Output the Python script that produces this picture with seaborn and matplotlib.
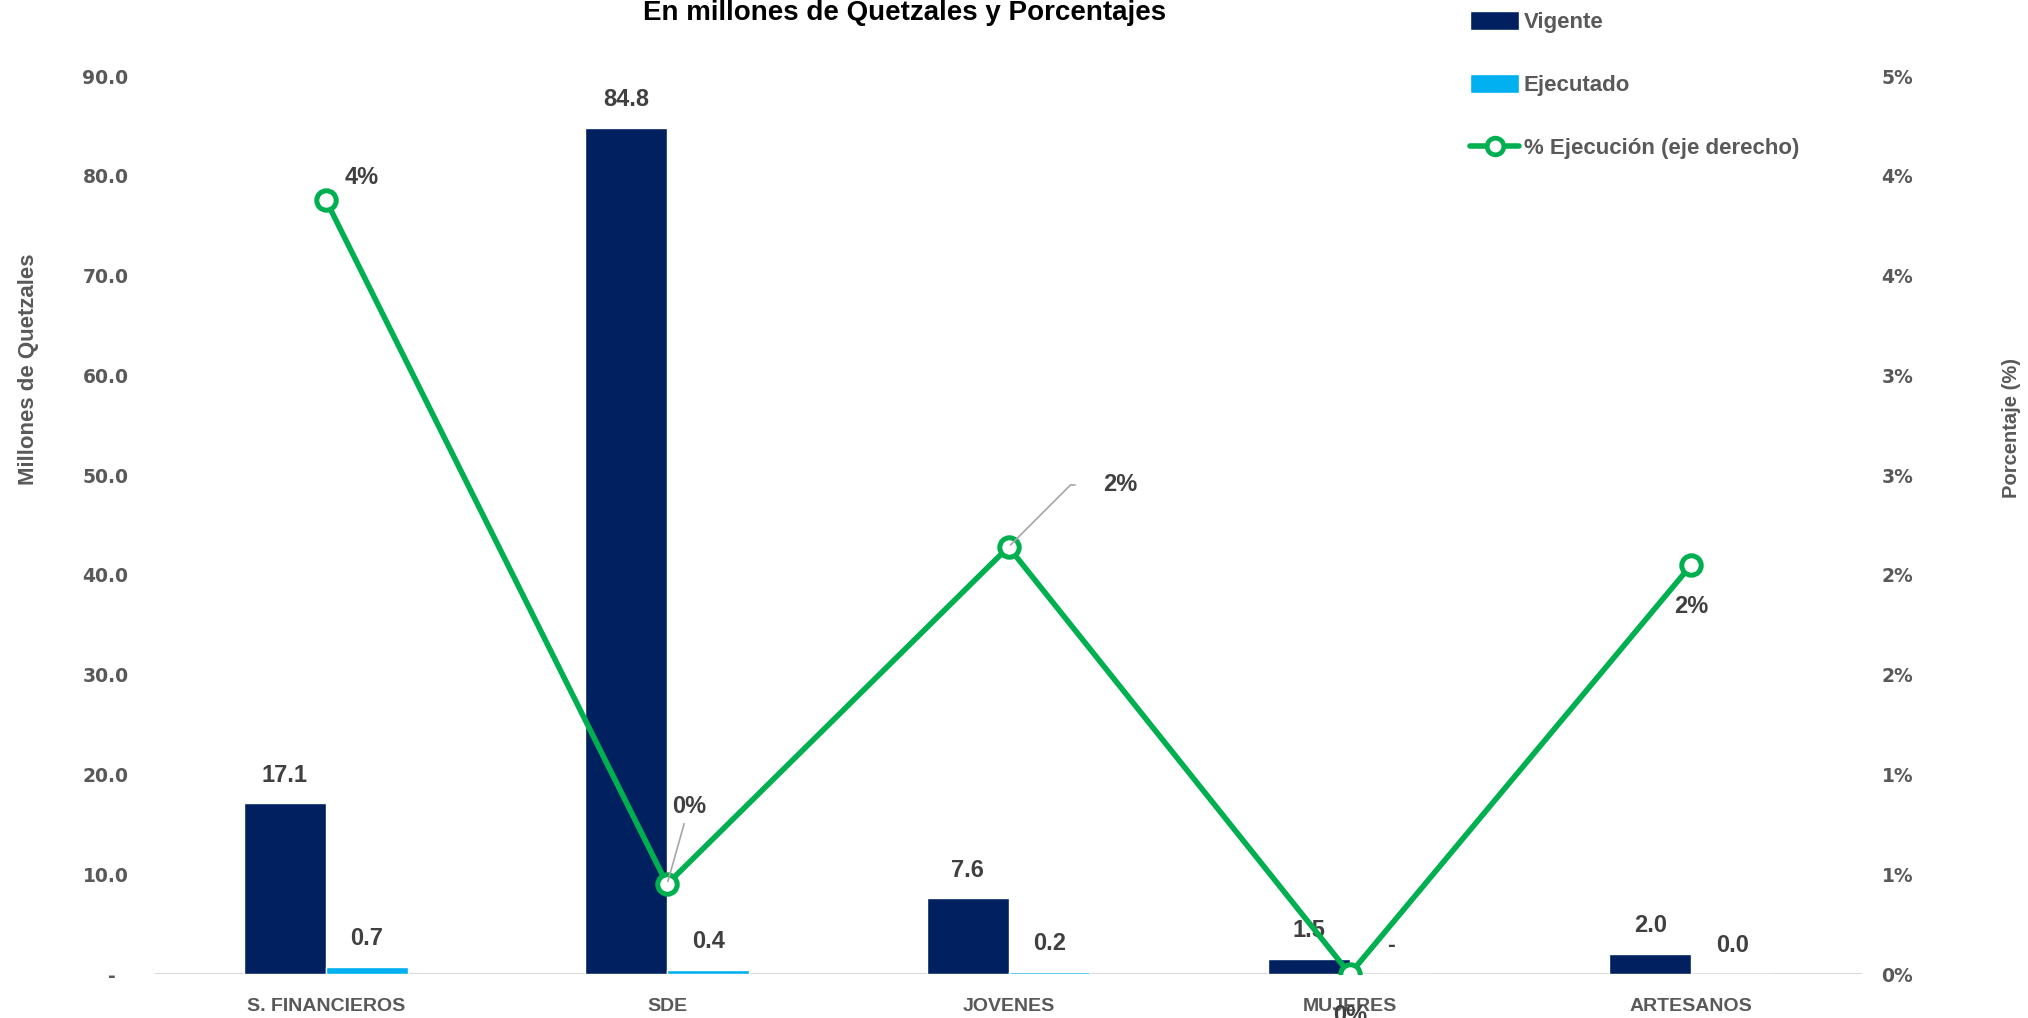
import numpy as np
import pandas as pd
import seaborn as sns
import matplotlib.pyplot as plt
import matplotlib.ticker as ticker
from matplotlib.lines import Line2D
from matplotlib.patches import Patch
from decimal import Decimal, ROUND_HALF_UP

categorias = ['S. FINANCIEROS', 'SDE', 'JOVENES', 'MUJERES', 'ARTESANOS']
vigente = [17.1, 84.8, 7.6, 1.5, 2.0]
ejecutado = [0.7, 0.4, 0.2, 0.0, 0.04]
pct_ejecucion = [3.88, 0.45, 2.14, 0.0, 2.05]

c_vig = '#002060'
c_eje = '#00B0F0'
c_line = '#00B050'
c_tick = '#595959'
c_lab = '#404040'

labfont = ['Liberation Sans', 'DejaVu Sans']

sns.set_theme(style='white')
plt.rcParams['font.family'] = ['DejaVu Sans']

df = pd.DataFrame({'categoria': categorias * 2,
                   'serie': ['Vigente'] * 5 + ['Ejecutado'] * 5,
                   'valor': vigente + ejecutado})

fig = plt.figure(figsize=(20.28, 10.18), dpi=100)
ax = fig.add_axes([155 / 2028, 1 - 974 / 1018, (1862 - 155) / 2028, (974 - 76) / 1018])

sns.barplot(data=df, x='categoria', y='valor', hue='serie', order=categorias,
            hue_order=['Vigente', 'Ejecutado'], palette=[c_vig, c_eje],
            width=0.48, gap=0, saturation=1, legend=False, ax=ax)

ax.set_xlim(-0.5, 4.5)
ax.set_ylim(0, 90)
ax.yaxis.set_major_locator(ticker.MultipleLocator(10))
ax.yaxis.set_major_formatter(ticker.FuncFormatter(lambda v, p: '-  ' if v == 0 else f'{v:.1f}'))
for s in ax.spines.values():
    s.set_visible(False)
ax.axhline(0, color='#d9d9d9', lw=1.5, zorder=0)
ax.tick_params(axis='y', length=0, labelsize=13.5, labelcolor=c_tick, pad=19)
ax.tick_params(axis='x', length=0, pad=17)
for t in ax.get_yticklabels():
    t.set_fontweight('bold')
ax.set_xticks(range(5))
ax.set_xticklabels(categorias, fontsize=14, fontweight='bold', color=c_tick, family=labfont)
ax.set_xlabel('')
ax.set_ylabel('Millones de Quetzales', fontsize=16, fontweight='bold', color=c_tick,
              family=labfont, labelpad=31)
ax.yaxis.label.set_y(0.673)

# etiquetas de las barras
for cont in ax.containers:
    labels = ['-' if v == 0 else f'{v:.1f}' for v in cont.datavalues]
    ax.bar_label(cont, labels=labels, padding=12, fontsize=17, fontweight='bold',
                 color=c_lab, family=labfont)

# eje derecho
ax2 = ax.twinx()
sns.lineplot(x=np.arange(5), y=pct_ejecucion, sort=False, color=c_line, lw=4,
             marker='o', markersize=14, markerfacecolor='white', markeredgecolor=c_line,
             markeredgewidth=3.6, ax=ax2, zorder=5)
ax2.set_xlim(-0.5, 4.5)
ax2.set_ylim(0, 4.5)
ax2.yaxis.set_major_locator(ticker.MultipleLocator(0.5))


def pct_fmt(v, p):
    d = Decimal(str(round(v, 4))).quantize(Decimal('1'), rounding=ROUND_HALF_UP)
    return f'{int(d)}%'


ax2.yaxis.set_major_formatter(ticker.FuncFormatter(pct_fmt))
for s in ax2.spines.values():
    s.set_visible(False)
ax2.tick_params(axis='y', length=0, labelsize=13.5, labelcolor=c_tick, pad=14)
for t in ax2.get_yticklabels():
    t.set_fontweight('bold')
ax2.set_ylabel('Porcentaje (%)', fontsize=14.5, fontweight='bold', color=c_tick,
               family=labfont, labelpad=64)
ax2.yaxis.label.set_y(0.608)
ax2.grid(False)
ax.grid(False)

# etiquetas de la linea
offsets = [(36, 22), (22, 78), (112, 62), (0, -42), (0, -42)]
for i, (v, off) in enumerate(zip(pct_ejecucion, offsets)):
    kw = {}
    if i == 1:
        kw['arrowprops'] = dict(arrowstyle='-', color='#a6a6a6', lw=1.2, shrinkA=2, shrinkB=2)
    if i == 2:
        kw['arrowprops'] = dict(arrowstyle='-', color='#a6a6a6', lw=1.2, shrinkA=18, shrinkB=2,
                                connectionstyle='angle,angleA=0,angleB=45,rad=0')
    ax2.annotate(f'{round(v):.0f}%', xy=(i, v), xytext=off, textcoords='offset pixels',
                 ha='center', va='center', fontsize=17, fontweight='bold', color=c_lab,
                 family=labfont, zorder=6, **kw)

fig.text(905 / 2028, 1 - 20 / 1018, 'En millones de Quetzales y Porcentajes',
         ha='center', va='baseline', fontsize=20, fontweight='bold', color='black',
         family=labfont)

handles = [Patch(facecolor=c_vig), Patch(facecolor=c_eje),
           Line2D([], [], color=c_line, lw=4, marker='o', markersize=12,
                  markerfacecolor='white', markeredgecolor=c_line, markeredgewidth=3.4)]
leg = fig.legend(handles, ['Vigente', 'Ejecutado', '% Ejecución (eje derecho)'],
                 loc='upper left', bbox_to_anchor=(1468 / 2028, 1 - 9 / 1018), frameon=False,
                 borderaxespad=0, borderpad=0.1, handlelength=2.2, handleheight=0.9,
                 handletextpad=0.2, labelspacing=1.85,
                 prop={'family': labfont, 'weight': 'bold', 'size': 16})
for t in leg.get_texts():
    t.set_color(c_tick)

fig.savefig('out.png', dpi=100)
